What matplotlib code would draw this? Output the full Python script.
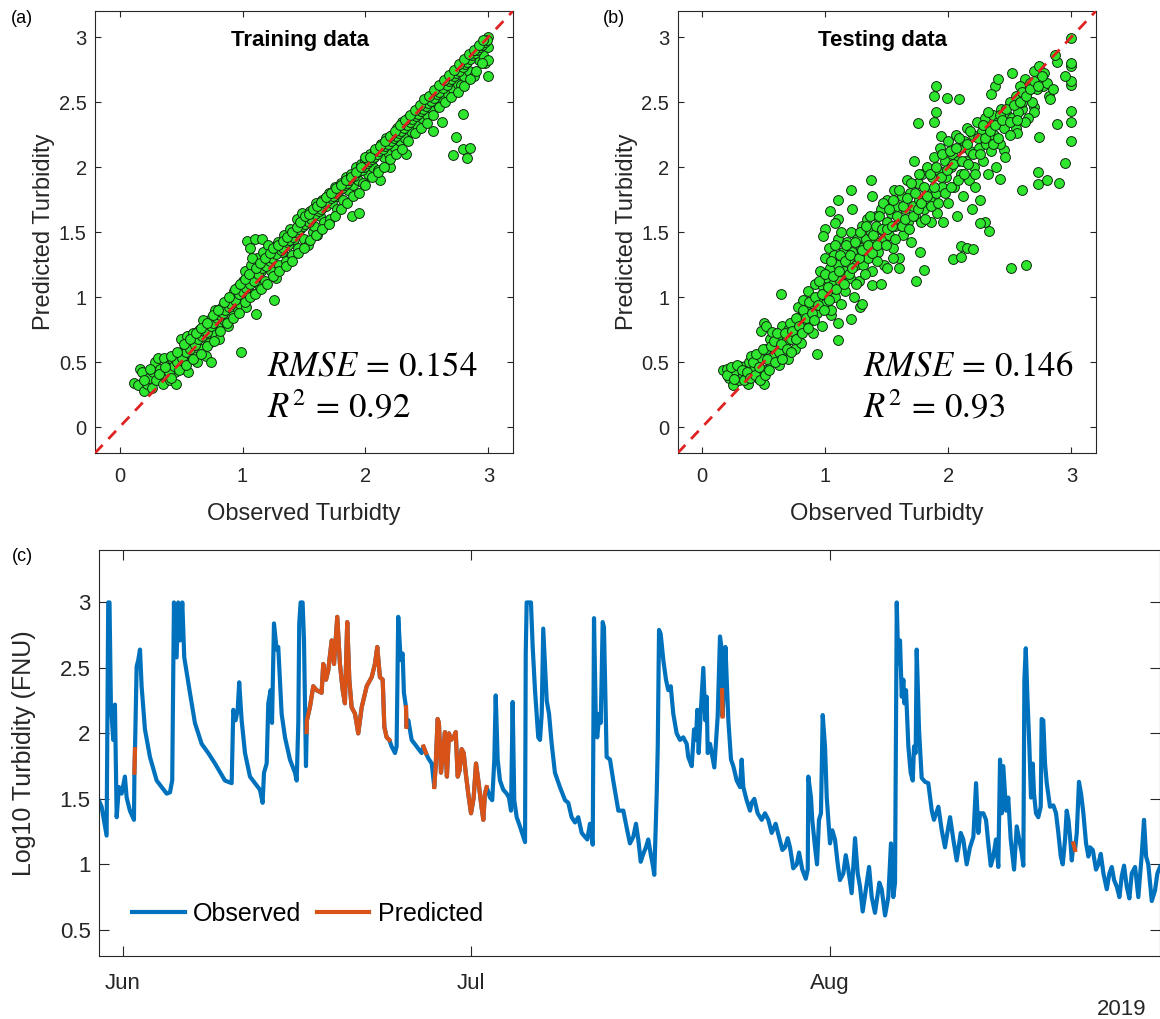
import numpy as np
import matplotlib
matplotlib.use('Agg')
import matplotlib.pyplot as plt
import matplotlib.dates as mdates
from matplotlib.ticker import FormatStrFormatter

plt.rcParams['font.family'] = ['Liberation Sans', 'DejaVu Sans']
plt.rcParams['mathtext.fontset'] = 'stix'

################################################################
# (a) training data: (observed, predicted)

train_pts = [
    (0.12, 0.34), (0.15, 0.32), (0.17, 0.45), (0.18, 0.42), (0.20, 0.28), (0.22, 0.33), (0.24, 0.38),
    (0.26, 0.30), (0.27, 0.42), (0.29, 0.50), (0.30, 0.36), (0.31, 0.53), (0.33, 0.45), (0.35, 0.33),
    (0.36, 0.53), (0.38, 0.40), (0.40, 0.48), (0.41, 0.36), (0.43, 0.52), (0.45, 0.42), (0.46, 0.33),
    (0.48, 0.55), (0.50, 0.45), (0.50, 0.68), (0.52, 0.60), (0.53, 0.50), (0.55, 0.70), (0.56, 0.42),
    (0.58, 0.62), (0.60, 0.55), (0.60, 0.72), (0.62, 0.66), (0.63, 0.50), (0.65, 0.75), (0.66, 0.60),
    (0.68, 0.82), (0.70, 0.68), (0.70, 0.55), (0.72, 0.78), (0.73, 0.65), (0.74, 0.50), (0.75, 0.85),
    (0.77, 0.72), (0.78, 0.90), (0.80, 0.80), (0.81, 0.68), (0.83, 0.92), (0.85, 0.82), (0.87, 0.95),
    (0.88, 0.78), (0.90, 1.00), (0.92, 0.88), (0.93, 1.05), (0.95, 0.92), (0.96, 1.08), (0.98, 0.95),
    (0.99, 0.58), (1.00, 1.12), (1.01, 1.00), (1.02, 1.20), (1.03, 0.92), (1.04, 1.43), (1.05, 1.10),
    (1.06, 1.38), (1.07, 1.25), (1.08, 1.02), (1.10, 1.45), (1.10, 1.15), (1.11, 0.87), (1.12, 1.30),
    (1.14, 1.08), (1.15, 1.20), (1.16, 1.45), (1.17, 1.35), (1.18, 1.12), (1.20, 1.28), (1.21, 1.40),
    (1.23, 1.20), (1.25, 1.32), (1.26, 0.98), (1.27, 1.15), (1.29, 1.42), (1.30, 1.25), (1.32, 1.35),
    (1.34, 1.48), (1.35, 1.28), (1.37, 1.40), (1.39, 1.52), (1.40, 1.32), (1.42, 1.45), (1.44, 1.60),
    (1.45, 1.38), (1.47, 1.52), (1.48, 1.65), (1.50, 1.45), (1.52, 1.60), (1.53, 1.40), (1.55, 1.66),
    (1.57, 1.50), (1.58, 1.55), (1.60, 1.72), (1.61, 1.48), (1.63, 1.62), (1.65, 1.75), (1.66, 1.58),
    (1.68, 1.70), (1.70, 1.80), (1.71, 1.60), (1.73, 1.72), (1.75, 1.85), (1.77, 1.68), (1.78, 1.78),
    (1.80, 1.88), (1.82, 1.75), (1.84, 1.92), (1.86, 1.82), (1.88, 1.95), (1.89, 1.62), (1.90, 1.86),
    (1.92, 2.00), (1.94, 1.90), (1.95, 1.65), (1.96, 2.02), (1.98, 1.88), (2.00, 2.05), (2.02, 1.95),
    (2.04, 2.10), (2.06, 2.00), (2.08, 2.12), (2.10, 1.98), (2.12, 1.90), (2.13, 2.18), (2.15, 2.08),
    (2.17, 2.22), (2.19, 2.10), (2.20, 2.00), (2.22, 2.25), (2.24, 2.15), (2.26, 2.30), (2.28, 2.20),
    (2.30, 2.35), (2.32, 2.22), (2.33, 2.10), (2.35, 2.38), (2.37, 2.28), (2.40, 2.42), (2.42, 2.32),
    (2.44, 2.46), (2.46, 2.38), (2.48, 2.50), (2.50, 2.40), (2.52, 2.52), (2.54, 2.45), (2.55, 2.28),
    (2.57, 2.56), (2.59, 2.48), (2.61, 2.60), (2.62, 2.35), (2.63, 2.52), (2.65, 2.64), (2.67, 2.56),
    (2.69, 2.68), (2.71, 2.60), (2.73, 2.72), (2.75, 2.64), (2.77, 2.76), (2.78, 2.63), (2.79, 2.41),
    (2.80, 2.70), (2.82, 2.80), (2.84, 2.74), (2.86, 2.84), (2.88, 2.70), (2.90, 2.88), (2.92, 2.82),
    (2.94, 2.92), (2.96, 2.86), (2.97, 2.80), (2.98, 2.96), (3.00, 3.00), (3.00, 2.92), (3.00, 2.82),
    (3.00, 2.70), (2.74, 2.23), (2.71, 2.09), (2.79, 2.14), (2.85, 2.15), (2.83, 2.07),
    (0.40, 0.42), (0.44, 0.47), (0.47, 0.50), (0.51, 0.53), (0.54, 0.58), (0.57, 0.60), (0.61, 0.63),
    (0.64, 0.68), (0.67, 0.70), (0.69, 0.74), (0.71, 0.73), (0.74, 0.78), (0.76, 0.80), (0.79, 0.84),
    (0.82, 0.86), (0.84, 0.88), (0.86, 0.90), (0.89, 0.92), (0.91, 0.95), (0.94, 0.98), (0.97, 1.02),
    (1.00, 1.04), (1.03, 1.07), (1.06, 1.10), (1.09, 1.12), (1.13, 1.18), (1.16, 1.22), (1.19, 1.24),
    (1.22, 1.28), (1.24, 1.30), (1.27, 1.33), (1.31, 1.36), (1.33, 1.38), (1.36, 1.42), (1.38, 1.44),
    (1.41, 1.46), (1.43, 1.50), (1.46, 1.52), (1.49, 1.55), (1.51, 1.56), (1.54, 1.58), (1.56, 1.60),
    (1.59, 1.64), (1.62, 1.66), (1.64, 1.68), (1.67, 1.72), (1.69, 1.74), (1.72, 1.76), (1.74, 1.78),
    (1.76, 1.80), (1.79, 1.83), (1.81, 1.84), (1.83, 1.86), (1.85, 1.88), (1.87, 1.90), (1.91, 1.93),
    (1.93, 1.96), (1.97, 1.98), (1.99, 2.00), (2.01, 2.03), (2.03, 2.05), (2.05, 2.06), (2.07, 2.08),
    (2.09, 2.10), (2.11, 2.12), (2.14, 2.14), (2.16, 2.16), (2.18, 2.18), (2.21, 2.20), (2.23, 2.22),
    (2.25, 2.24), (2.27, 2.26), (2.29, 2.28), (2.31, 2.30), (2.34, 2.32), (2.36, 2.35), (2.38, 2.37),
    (2.41, 2.39), (2.43, 2.41), (2.45, 2.43), (2.47, 2.45), (2.49, 2.47), (2.51, 2.49), (2.53, 2.51),
    (2.56, 2.53), (2.58, 2.56), (2.60, 2.58), (2.63, 2.61), (2.66, 2.63), (2.68, 2.66), (2.70, 2.68),
    (2.72, 2.70), (2.74, 2.72), (2.76, 2.74), (2.79, 2.77), (2.81, 2.79), (2.83, 2.81), (2.85, 2.83),
    (2.87, 2.86), (2.89, 2.88), (2.91, 2.90), (2.93, 2.92), (2.95, 2.94), (2.97, 2.96), (2.99, 2.98),
    (0.20, 0.36), (0.25, 0.45), (0.32, 0.41), (0.37, 0.46), (0.42, 0.55), (0.47, 0.58), (0.52, 0.64),
    (0.57, 0.68), (0.62, 0.72), (0.66, 0.76), (0.71, 0.80), (0.76, 0.86), (0.80, 0.90), (0.85, 0.96),
    (0.89, 1.00), (0.94, 1.06), (0.98, 1.10), (1.02, 1.14), (1.05, 1.18), (1.08, 1.30), (1.11, 1.22),
    (1.14, 1.26), (1.18, 1.30), (1.22, 1.34), (1.25, 1.38), (1.29, 1.40), (1.33, 1.43), (1.36, 1.46),
    (1.40, 1.50), (1.44, 1.54), (1.47, 1.58), (1.51, 1.62), (1.54, 1.64), (1.57, 1.68), (1.61, 1.70),
    (1.64, 1.73), (1.68, 1.77), (1.72, 1.80), (1.76, 1.84), (1.80, 1.86), (1.84, 1.90), (1.88, 1.92),
    (1.92, 1.96), (1.96, 2.00), (2.00, 2.08), (2.04, 2.08), (2.08, 2.14), (2.12, 2.16), (2.16, 2.20),
    (2.20, 2.24), (2.24, 2.28), (2.28, 2.32), (2.32, 2.36), (2.36, 2.40), (2.40, 2.44), (2.44, 2.48),
    (2.48, 2.52), (2.52, 2.55), (2.56, 2.59), (2.60, 2.63), (2.64, 2.67), (2.68, 2.71), (2.72, 2.75),
    (2.76, 2.79), (2.80, 2.83), (2.84, 2.87), (2.88, 2.90), (2.92, 2.94), (2.96, 2.98),
    (0.42, 0.38), (0.48, 0.44), (0.54, 0.48), (0.60, 0.52), (0.66, 0.56), (0.71, 0.62), (0.77, 0.66),
    (0.82, 0.74), (0.87, 0.80), (0.92, 0.84), (0.97, 0.88), (1.02, 0.96), (1.06, 1.00), (1.10, 1.02),
    (1.15, 1.06), (1.20, 1.10), (1.25, 1.16), (1.30, 1.20), (1.35, 1.24), (1.40, 1.28), (1.45, 1.34),
    (1.50, 1.38), (1.55, 1.44), (1.60, 1.48), (1.65, 1.52), (1.70, 1.56), (1.75, 1.62), (1.80, 1.68),
    (1.85, 1.72), (1.90, 1.78), (1.95, 1.80), (2.00, 1.86), (2.05, 1.92), (2.10, 1.96), (2.15, 2.00),
    (2.20, 2.06), (2.25, 2.10), (2.30, 2.14), (2.35, 2.20), (2.40, 2.26), (2.45, 2.30), (2.50, 2.34),
    (2.55, 2.40), (2.60, 2.46), (2.65, 2.50), (2.70, 2.54), (2.75, 2.58), (2.80, 2.62), (2.85, 2.68),
    (2.90, 2.74), (2.95, 2.80),
]

################################################################
# (b) testing data

test_pts = [
    (1.90, 2.62), (1.88, 2.55), (1.99, 2.53), (2.09, 2.52), (1.75, 2.34), (1.88, 2.35), (1.90, 2.42),
    (1.94, 2.24), (2.51, 1.22), (2.63, 1.25), (1.74, 1.12), (1.80, 1.21), (1.77, 1.35), (2.04, 1.29),
    (2.10, 1.31), (2.10, 1.39), (2.15, 1.38), (2.20, 1.37), (2.33, 1.51), (2.30, 1.58), (2.26, 1.57),
    (2.60, 1.82), (2.73, 1.87), (2.73, 1.96), (2.80, 1.90), (2.90, 1.88), (2.95, 2.03), (2.74, 2.23),
    (2.88, 2.33), (3.00, 2.20), (3.00, 2.35), (3.00, 2.43), (3.00, 2.63), (3.00, 2.66), (3.00, 2.78),
    (3.00, 2.80), (3.00, 2.99), (2.95, 2.70), (2.88, 2.81), (2.87, 2.86), (2.42, 1.91), (2.45, 2.13),
    (2.52, 2.72), (2.38, 2.62), (2.40, 2.68), (2.35, 2.56), (2.62, 2.68), (2.70, 2.74), (2.74, 2.78),
    (2.77, 2.62), (2.82, 2.55), (2.83, 2.52), (2.70, 2.46), (2.70, 2.42), (2.65, 2.38), (2.55, 2.30),
    (2.56, 2.26), (2.60, 2.45), (1.21, 1.82), (1.37, 1.90), (1.38, 1.78), (1.04, 1.66), (1.10, 1.75),
    (1.22, 1.68), (1.10, 1.60), (1.08, 1.57), (1.00, 1.52), (0.98, 1.47), (1.10, 0.67), (1.21, 0.83),
    (1.05, 0.86), (1.10, 0.80), (1.28, 0.92), (1.30, 0.95), (1.38, 1.09), (0.93, 0.56), (0.64, 1.02),
    (0.50, 0.80), (0.48, 0.74), (0.52, 0.78), (0.17, 0.44), (0.20, 0.45), (0.22, 0.38), (0.25, 0.32),
    (0.27, 0.42), (0.30, 0.47), (0.30, 0.36), (0.33, 0.40), (0.35, 0.47), (0.37, 0.33), (0.38, 0.50),
    (0.40, 0.55), (0.42, 0.45), (0.45, 0.38), (0.48, 0.52), (0.50, 0.33), (0.50, 0.44), (0.52, 0.60),
    (0.55, 0.50), (0.55, 0.68), (0.57, 0.73), (0.58, 0.55), (0.60, 0.62), (0.62, 0.48), (0.63, 0.70),
    (0.65, 0.78), (0.66, 0.58), (0.68, 0.66), (0.70, 0.52), (0.70, 0.75), (0.72, 0.68), (0.74, 0.80),
    (0.75, 0.60), (0.77, 0.72), (0.78, 0.92), (0.80, 0.85), (0.80, 0.65), (0.82, 0.98), (0.83, 0.77),
    (0.85, 0.90), (0.86, 1.05), (0.88, 0.82), (0.90, 0.95), (0.90, 0.72), (0.92, 1.10), (0.93, 0.88),
    (0.95, 1.00), (0.96, 1.20), (0.97, 0.78), (0.98, 1.08), (1.00, 0.95), (1.00, 1.30), (1.01, 1.15),
    (1.02, 1.02), (1.03, 1.38), (1.04, 1.22), (1.05, 0.90), (1.06, 1.10), (1.07, 1.32), (1.08, 1.00),
    (1.10, 1.25), (1.10, 1.45), (1.12, 1.12), (1.13, 0.95), (1.14, 1.35), (1.15, 1.20), (1.16, 1.05),
    (1.18, 1.42), (1.19, 1.28), (1.20, 1.15), (1.21, 1.50), (1.22, 1.35), (1.23, 1.00), (1.25, 1.25),
    (1.26, 1.45), (1.27, 1.12), (1.29, 1.38), (1.30, 1.55), (1.31, 1.25), (1.33, 1.45), (1.34, 1.60),
    (1.35, 1.30), (1.37, 1.50), (1.38, 1.20), (1.40, 1.42), (1.41, 1.62), (1.43, 1.35), (1.44, 1.52),
    (1.45, 1.68), (1.47, 1.45), (1.48, 1.25), (1.50, 1.58), (1.50, 1.75), (1.52, 1.48), (1.53, 1.65),
    (1.55, 1.38), (1.56, 1.82), (1.57, 1.55), (1.58, 1.70), (1.60, 1.30), (1.60, 1.60), (1.62, 1.78),
    (1.63, 1.48), (1.65, 1.68), (1.66, 1.90), (1.67, 1.58), (1.69, 1.80), (1.70, 1.42), (1.71, 1.70),
    (1.72, 2.05), (1.73, 1.62), (1.75, 1.88), (1.76, 1.75), (1.78, 1.58), (1.79, 1.95), (1.80, 1.68),
    (1.82, 1.82), (1.83, 2.00), (1.85, 1.75), (1.86, 1.58), (1.87, 1.92), (1.88, 2.08), (1.90, 1.80),
    (1.91, 1.65), (1.92, 1.98), (1.93, 2.15), (1.95, 1.85), (1.96, 1.58), (1.97, 2.05), (1.98, 1.92),
    (2.00, 2.20), (2.00, 1.72), (2.02, 2.00), (2.03, 2.10), (2.05, 1.85), (2.06, 2.25), (2.07, 1.62),
    (2.08, 2.05), (2.10, 2.15), (2.10, 1.95), (2.12, 1.78), (2.13, 2.20), (2.14, 2.05), (2.15, 2.30),
    (2.17, 1.90), (2.18, 2.12), (2.19, 1.68), (2.20, 2.25), (2.21, 2.00), (2.22, 1.85), (2.23, 2.35),
    (2.25, 2.15), (2.26, 1.75), (2.27, 2.28), (2.28, 2.05), (2.30, 2.38), (2.31, 2.18), (2.32, 1.95),
    (2.33, 2.30), (2.35, 2.12), (2.36, 2.40), (2.37, 2.25), (2.39, 2.00), (2.40, 2.35), (2.42, 2.18),
    (2.43, 2.45), (2.45, 2.30), (2.46, 2.08), (2.48, 2.40), (2.50, 2.50), (2.50, 2.25), (2.52, 2.38),
    (2.55, 2.55), (2.57, 2.42), (2.58, 2.62), (2.60, 2.50), (2.62, 2.35), (2.64, 2.58), (2.66, 2.65),
    (2.68, 2.50), (2.72, 2.60), (2.75, 2.68), (2.78, 2.72), (2.80, 2.65), (2.85, 2.60), (1.50, 1.22),
    (1.55, 1.30), (1.60, 1.22), (1.45, 1.10), (1.42, 1.28),
    (0.20, 0.40), (0.23, 0.46), (0.26, 0.37), (0.28, 0.48), (0.32, 0.44), (0.34, 0.36), (0.36, 0.42),
    (0.39, 0.38), (0.41, 0.50), (0.43, 0.40), (0.44, 0.56), (0.46, 0.46), (0.47, 0.36), (0.49, 0.60),
    (0.51, 0.40), (0.53, 0.52), (0.54, 0.44), (0.56, 0.62), (0.58, 0.66), (0.59, 0.50), (0.61, 0.72),
    (0.62, 0.58), (0.64, 0.64), (0.65, 0.52), (0.67, 0.72), (0.69, 0.60), (0.71, 0.80), (0.72, 0.58),
    (0.73, 0.74), (0.76, 0.68), (0.76, 0.84), (0.79, 0.78), (0.81, 0.72), (0.82, 0.90), (0.84, 0.84),
    (0.86, 0.76), (0.87, 0.96), (0.89, 0.88), (0.91, 0.82), (0.92, 1.00), (0.94, 0.94), (0.95, 1.12),
    (0.97, 1.02), (0.99, 0.90), (1.00, 1.18), (1.02, 1.08), (1.03, 0.98), (1.05, 1.28), (1.06, 1.16),
    (1.08, 1.40), (1.09, 1.06), (1.11, 1.20), (1.12, 1.32), (1.13, 1.50), (1.15, 1.10), (1.16, 1.28),
    (1.17, 1.40), (1.19, 1.18), (1.20, 1.32), (1.22, 1.22), (1.24, 1.42), (1.25, 1.10), (1.27, 1.30),
    (1.28, 1.50), (1.30, 1.36), (1.32, 1.18), (1.33, 1.55), (1.35, 1.40), (1.36, 1.62), (1.38, 1.34),
    (1.39, 1.48), (1.41, 1.55), (1.42, 1.40), (1.44, 1.62), (1.46, 1.52), (1.47, 1.72), (1.49, 1.40),
    (1.50, 1.52), (1.52, 1.68), (1.54, 1.55), (1.55, 1.75), (1.57, 1.45), (1.58, 1.62), (1.60, 1.82),
    (1.62, 1.55), (1.63, 1.70), (1.65, 1.60), (1.66, 1.76), (1.68, 1.52), (1.70, 1.88), (1.71, 1.62),
    (1.73, 1.80), (1.75, 1.68), (1.76, 1.95), (1.78, 1.72), (1.80, 1.85), (1.81, 1.60), (1.83, 1.78),
    (1.85, 1.95), (1.86, 1.70), (1.88, 1.85), (1.90, 2.00), (1.92, 1.72), (1.94, 1.92), (1.95, 2.10),
    (1.97, 1.80), (1.99, 1.98), (2.01, 2.12), (2.02, 1.85), (2.04, 2.02), (2.06, 2.15), (2.08, 1.90),
    (2.09, 2.22), (2.11, 2.05), (2.13, 1.95), (2.15, 2.18), (2.16, 2.02), (2.18, 2.28), (2.20, 2.10),
    (2.22, 1.95), (2.24, 2.22), (2.26, 2.10), (2.28, 2.32), (2.30, 2.22), (2.32, 2.42), (2.34, 2.28),
    (2.36, 2.18), (2.38, 2.32), (2.40, 2.22), (2.42, 2.40), (2.44, 2.36), (2.47, 2.45), (2.50, 2.35),
    (2.53, 2.48), (2.56, 2.36), (2.58, 2.50), (2.60, 2.58), (2.63, 2.55), (2.66, 2.60), (2.70, 2.66),
    (2.73, 2.62), (2.76, 2.70),
]

train_stats = ['$RMSE\\,=\\,0.154$', '$R^2\\,=\\,0.92$']
test_stats = ['$RMSE\\,=\\,0.146$', '$R^2\\,=\\,0.93$']

################################################################
# (c) time series, days since 2019-06-01 and log10 turbidity

obs_days = [
    -2.13, -1.84, -1.41, -1.27, -1.16, -1.04, -0.84, -0.69, -0.54, -0.35, -0.11, 0.17, 0.32, 0.60,
    0.95, 0.99, 1.04, 1.18, 1.32, 1.47, 1.61, 1.90, 2.33, 2.91, 3.34, 3.77, 4.06, 4.25, 4.40, 4.63,
    4.77, 4.92, 5.12, 5.29, 5.78, 6.21, 6.79, 7.36, 7.94, 8.80, 9.38, 9.52, 9.72, 9.90, 10.03, 10.24,
    10.53, 10.96, 11.39, 11.82, 12.05, 12.17, 12.40, 12.54, 12.74, 12.86, 13.03, 13.26, 13.40, 13.69,
    13.98, 14.41, 14.84, 14.99, 15.13, 15.21, 15.33, 15.50, 15.62, 15.79, 15.85, 15.87, 16.13, 16.42,
    16.71, 17.14, 17.28, 17.52, 17.71, 18.01, 18.21, 18.49, 18.72, 18.96, 19.15, 19.35, 19.53, 19.73,
    20.02, 20.30, 20.60, 21.03, 21.46, 21.74, 21.94, 22.17, 22.41, 22.55, 22.75, 22.98, 23.18, 23.47,
    23.61, 23.75, 23.96, 24.13, 24.24, 24.42, 24.46, 24.62, 24.91, 25.34, 25.77, 25.93, 26.14, 26.34,
    26.64, 26.86, 26.98, 27.15, 27.26, 27.44, 27.61, 27.78, 27.95, 28.13, 28.30, 28.53, 28.71, 28.88,
    29.05, 29.22, 29.40, 29.57, 29.79, 30.03, 30.26, 30.46, 30.66, 30.89, 31.09, 31.23, 31.38, 31.67,
    31.86, 32.04, 32.16, 32.33, 32.53, 32.81, 33.11, 33.30, 33.48, 33.62, 33.76, 33.97, 34.25, 34.54,
    34.69, 34.75, 34.83, 35.20, 35.35, 35.55, 35.83, 35.98, 36.13, 36.26, 36.56, 36.76, 36.99, 37.27,
    37.70, 38.14, 38.42, 38.71, 39.00, 39.28, 39.58, 39.86, 40.06, 40.29, 40.53, 40.64, 40.81, 40.92,
    41.10, 41.22, 41.39, 41.50, 41.73, 42.02, 42.30, 42.74, 43.17, 43.46, 43.74, 44.03, 44.26, 44.46,
    44.67, 44.89, 45.12, 45.32, 45.53, 45.70, 45.84, 46.05, 46.14, 46.25, 46.39, 46.62, 46.85, 47.05,
    47.26, 47.48, 47.77, 48.06, 48.34, 48.64, 48.77, 49.07, 49.27, 49.44, 49.55, 49.67, 49.84, 50.07,
    50.24, 50.36, 50.45, 50.65, 50.79, 51.02, 51.31, 51.51, 51.63, 51.69, 51.73, 51.83, 51.98, 52.09,
    52.23, 52.46, 52.66, 52.95, 53.24, 53.38, 53.52, 53.81, 54.10, 54.24, 54.47, 54.76, 55.11, 55.39,
    55.68, 55.97, 56.31, 56.60, 56.89, 57.12, 57.35, 57.55, 57.83, 58.13, 58.33, 58.61, 58.91, 59.08,
    59.13, 59.36, 59.47, 59.71, 59.88, 60.05, 60.22, 60.37, 60.57, 60.72, 61.00, 61.20, 61.43, 61.67,
    61.86, 62.15, 62.36, 62.58, 62.87, 63.16, 63.39, 63.59, 63.82, 64.08, 64.37, 64.60, 64.88, 65.26,
    65.46, 65.75, 66.03, 66.26, 66.46, 66.61, 66.76, 66.89, 67.04, 67.19, 67.33, 67.41, 67.56, 67.76,
    67.96, 68.14, 68.25, 68.39, 68.48, 68.68, 68.91, 69.20, 69.48, 69.78, 69.97, 70.35, 70.64, 70.92,
    71.12, 71.36, 71.64, 71.93, 72.28, 72.50, 72.79, 73.08, 73.37, 73.60, 73.80, 73.94, 74.23, 74.46,
    74.66, 74.87, 75.09, 75.32, 75.52, 75.67, 75.82, 75.95, 76.19, 76.38, 76.59, 76.88, 77.11, 77.33,
    77.54, 77.68, 77.77, 77.89, 78.03, 78.20, 78.34, 78.49, 78.60, 78.77, 78.97, 79.18, 79.26, 79.40,
    79.55, 79.70, 79.98, 80.27, 80.50, 80.70, 80.91, 81.08, 81.28, 81.42, 81.57, 81.71, 81.86, 82.00,
    82.14, 82.29, 82.48, 82.66, 82.86, 83.09, 83.29, 83.43, 83.67, 83.95, 84.15, 84.36, 84.59, 84.88,
    85.10, 85.31, 85.51, 85.74, 85.97, 86.17, 86.37, 86.60, 86.83, 87.03, 87.32, 87.60, 87.90, 88.09,
    88.27, 88.46, 88.76, 89.04, 89.24, 89.47,
]

obs_turb = [
    1.50, 1.44, 1.22, 3.00, 3.00, 2.23, 1.95, 2.22, 1.36, 1.59, 1.54, 1.67, 1.51, 1.41,
    1.34, 1.70, 1.88, 2.51, 2.56, 2.64, 2.36, 2.03, 1.82, 1.64, 1.59, 1.54, 1.55, 1.64, 3.00, 2.58,
    3.00, 2.71, 3.00, 2.58, 2.31, 2.08, 1.92, 1.85, 1.77, 1.64, 1.62, 2.18, 2.10, 2.18, 2.39, 2.10,
    1.85, 1.67, 1.62, 1.57, 1.47, 1.70, 1.77, 2.23, 2.33, 2.08, 2.84, 2.64, 2.66, 2.15,
    1.97, 1.80, 1.70, 1.64, 2.08, 2.84, 3.00, 3.00, 2.71, 1.75, 2.01, 2.10, 2.20, 2.36,
    2.33, 2.31, 2.53, 2.41, 2.48, 2.71, 2.53, 2.89, 2.53, 2.33, 2.23, 2.85, 2.41, 2.20,
    2.15, 2.00, 2.20, 2.36, 2.43, 2.53, 2.66, 2.43, 2.41, 2.05, 1.97, 1.95, 1.90, 1.85,
    1.90, 2.89, 2.56, 2.61, 2.31, 2.20, 2.05, 2.10, 1.95, 1.90, 1.85, 1.90, 1.85, 1.81,
    1.77, 1.59, 1.75, 2.11, 2.08, 1.70, 1.85, 2.01, 1.67, 2.00, 1.95, 1.97, 2.01, 1.67,
    1.72, 1.88, 1.85, 1.70, 1.54, 1.39, 1.51, 1.77, 1.64, 1.47, 1.34, 1.54, 1.59, 1.51,
    1.49, 1.80, 2.29, 1.80, 1.64, 1.57, 1.54, 1.51, 1.41, 2.24, 1.49, 1.36, 1.29, 1.21,
    1.17, 2.61, 3.00, 3.00, 2.66, 2.33, 1.97, 1.95, 2.15, 2.80, 2.25, 2.15, 1.92, 1.70,
    1.59, 1.49, 1.47, 1.36, 1.32, 1.36, 1.24, 1.21, 1.19, 1.31, 1.15, 2.88, 2.05, 1.97,
    2.15, 2.08, 2.85, 2.81, 1.82, 1.80, 1.64, 1.41, 1.41, 1.28, 1.16, 1.21, 1.31, 1.19,
    1.02, 1.08, 1.13, 1.19, 1.08, 1.00, 0.92, 1.54, 1.90, 2.79, 2.76, 2.56, 2.41, 2.33,
    2.36, 2.15, 2.00, 1.95, 1.97, 1.92, 1.82, 1.75, 2.03, 1.95, 2.18, 1.85, 2.15, 2.50,
    2.10, 2.28, 1.85, 1.92, 1.85, 1.74, 2.13, 2.74, 2.66, 2.33, 2.13, 2.31, 2.66, 2.41,
    2.10, 1.80, 1.75, 1.64, 1.59, 1.80, 1.59, 1.49, 1.41, 1.47, 1.50, 1.39, 1.34, 1.39,
    1.34, 1.24, 1.31, 1.21, 1.11, 1.13, 1.20, 1.13, 0.97, 1.00, 1.09, 0.96, 0.89, 0.96,
    1.67, 1.51, 1.34, 1.13, 1.00, 1.34, 1.39, 2.14, 1.90, 1.51, 1.16, 1.26, 1.19, 1.00,
    0.88, 0.93, 1.07, 0.96, 0.78, 1.20, 0.93, 0.83, 0.64, 0.80, 0.98, 0.75, 0.63, 0.86,
    0.81, 0.61, 0.75, 1.16, 0.75, 0.86, 3.00, 2.53, 2.71, 2.28, 2.41, 2.23, 2.33, 1.90,
    1.70, 1.64, 1.90, 1.85, 2.64, 2.03, 1.66, 1.63, 1.62, 1.41, 1.34, 1.44, 1.26, 1.13,
    1.24, 1.36, 1.19, 1.03, 1.24, 1.19, 1.00, 1.13, 1.21, 1.62, 1.24, 1.39, 1.39, 1.34,
    1.16, 0.99, 1.06, 1.19, 0.98, 1.80, 1.39, 1.75, 1.41, 1.51, 1.19, 0.96, 1.29, 1.19,
    1.09, 0.99, 2.41, 2.65, 2.28, 1.90, 1.51, 1.77, 1.54, 1.39, 1.36, 1.44, 2.11, 2.10,
    1.77, 1.62, 1.44, 1.45, 1.39, 1.24, 1.06, 1.00, 1.19, 1.41, 1.34, 1.21, 1.03, 1.16,
    1.11, 1.24, 1.63, 1.54, 1.39, 1.16, 1.06, 1.13, 1.11, 0.96, 1.00, 1.08, 0.93, 0.81,
    0.93, 0.98, 0.88, 0.83, 0.75, 0.91, 0.99, 0.83, 0.74, 0.93, 0.98, 0.75, 1.08, 1.34,
    1.06, 1.00, 0.72, 0.80, 0.93, 0.98,
]

# day ranges where the gaps were filled by the model
pred_ranges = [(0.98, 1.05), (15.84, 22.99), (24.41, 24.47), (25.92, 26.15),
               (26.85, 31.39), (51.68, 51.74), (81.99, 82.15)]

################################################################

INK = '#262626'
GREEN = '#2ee62e'


def to_time(days):
    """
    Turn days since 2019-06-01 into datetime64 values
    :param days: list of fractional days
    :return: numpy datetime64 array
    """
    mins = np.round(np.asarray(days) * 1440).astype(int)
    return np.datetime64('2019-06-01T00:00') + mins.astype('timedelta64[m]')


def style_box(ax, size, length):
    for s in ax.spines.values():
        s.set_color(INK)
        s.set_linewidth(0.8)
    ax.tick_params(direction='in', top=True, right=True, length=length, width=0.8,
                   colors=INK, labelsize=size, labelcolor=INK)


def scatter_panel(ax, pts, title, stats, stats_x):
    """
    Observed vs predicted scatter with the 1:1 line
    """
    pts = np.array(pts)
    ax.scatter(pts[:, 0], pts[:, 1], s=50, c=GREEN, edgecolors='#102810', linewidths=0.7, zorder=2)
    ax.plot([-0.2, 3.2], [-0.2, 3.2], '--', color='#e02222', lw=2.0, dashes=(4, 3), zorder=3)
    ax.set_xlim(-0.2, 3.2)
    ax.set_ylim(-0.2, 3.2)
    ax.set_xticks([0, 1, 2, 3])
    ax.set_yticks([0, 0.5, 1, 1.5, 2, 2.5, 3])
    ax.yaxis.set_major_formatter(FormatStrFormatter('%g'))
    style_box(ax, 14.5, 4)
    ax.tick_params(axis='x', pad=10)
    ax.tick_params(axis='y', pad=6)
    ax.set_xlabel('Observed Turbidty', fontsize=17, color=INK, labelpad=12)
    ax.set_ylabel('Predicted Turbidity', fontsize=17, color=INK, labelpad=2.5)
    ax.text(0.49, 0.933, title, transform=ax.transAxes, ha='center', va='center',
            fontsize=16, fontweight='bold')
    ax.text(stats_x, 0.176, stats[0], transform=ax.transAxes, fontsize=25, va='baseline')
    ax.text(stats_x, 0.081, stats[1], transform=ax.transAxes, fontsize=25, va='baseline')


fig = plt.figure(figsize=(11.6, 10.19), dpi=100)

ax_a = fig.add_axes([0.0819, 0.5554, 0.3603, 0.4338])
scatter_panel(ax_a, train_pts, 'Training data', train_stats, 0.411)

ax_b = fig.add_axes([0.5842, 0.5554, 0.3606, 0.4338])
scatter_panel(ax_b, test_pts, 'Testing data', test_stats, 0.443)

################################################################

ax_c = fig.add_axes([0.0853, 0.0618, 0.9147, 0.3984])
t = to_time(obs_days)
v = np.array(obs_turb)
d = np.array(obs_days)
ax_c.plot(t, v, color='#0072BD', lw=3.0, label='Observed')
first = True
for lo, hi in pred_ranges:
    m = (d >= lo) & (d <= hi)
    ax_c.plot(t[m], v[m], color='#D95319', lw=3.0, label='Predicted' if first else None)
    first = False

ax_c.set_xlim(to_time([-2.07, 89.47]))
ax_c.set_ylim(0.3, 3.4)
ax_c.set_yticks([0.5, 1, 1.5, 2, 2.5, 3])
ax_c.yaxis.set_major_formatter(FormatStrFormatter('%g'))
ax_c.xaxis.set_major_locator(mdates.MonthLocator())
ax_c.xaxis.set_major_formatter(mdates.DateFormatter('%b'))
style_box(ax_c, 16, 7)
ax_c.tick_params(axis='x', pad=12)
ax_c.tick_params(axis='y', pad=6)
ax_c.set_ylabel('Log10 Turbidity (FNU)', fontsize=18, color=INK, labelpad=17)
ax_c.legend(loc='lower left', bbox_to_anchor=(0.01, 0.018), ncol=2, frameon=False,
            fontsize=18, handlelength=2.1, handletextpad=0.35, columnspacing=0.6)

fig.text(0.009, 0.982, '(a)', fontsize=13, va='center')
fig.text(0.52, 0.982, '(b)', fontsize=13, va='center')
fig.text(0.0103, 0.4534, '(c)', fontsize=13, va='center')
fig.text(0.967, 0.0092, '2019', fontsize=16, ha='center', va='center', color=INK)

fig.savefig('out.png', dpi=100)
